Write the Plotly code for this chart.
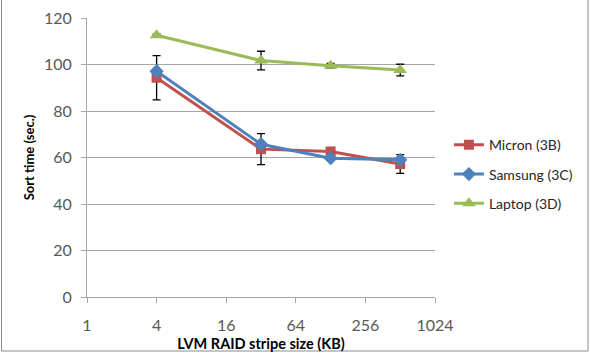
import plotly.graph_objects as go

stripe_kb = [4, 32, 128, 512]
micron = [94.3, 63.6, 62.6, 57.2]
micron_err = [9.5, 6.7, 1.0, 4.0]
samsung = [97.1, 65.7, 59.7, 59.0]
laptop = [112.6, 101.7, 99.5, 97.6]
laptop_err = [0.5, 4.0, 1.0, 2.5]
x_ticks = [1, 4, 16, 64, 256, 1024]
y_ticks = [0, 20, 40, 60, 80, 100, 120]

FONT = "Lato, Open Sans, sans-serif"
W, H = 590, 353
L, R, T, B = 87, 155, 18, 56

fig = go.Figure()
fig.add_trace(go.Scatter(
    x=stripe_kb, y=micron, name="Micron (3B)", mode="lines+markers", legendgroup="a",
    line=dict(color="#C0504D", width=3),
    marker=dict(symbol="square", size=10, color="#C0504D"),
    error_y=dict(type="data", array=micron_err, color="black", thickness=1.3, width=4),
))
fig.add_trace(go.Scatter(
    x=stripe_kb, y=samsung, name="Samsung (3C)", mode="lines+markers", legendgroup="b",
    line=dict(color="#4F81BD", width=3),
    marker=dict(symbol="diamond", size=11, color="#4F81BD"),
))
fig.add_trace(go.Scatter(
    x=stripe_kb, y=laptop, name="Laptop (3D)", mode="lines+markers", legendgroup="c",
    line=dict(color="#9BBB59", width=3),
    marker=dict(symbol="triangle-up", size=12, color="#9BBB59"),
    error_y=dict(type="data", array=laptop_err, color="black", thickness=1.3, width=4),
))

pw = W - L - R
ph = H - T - B
fig.add_shape(type="rect", xref="paper", yref="paper",
              x0=-(L - 1.5) / pw, x1=(W - L - 2) / pw,
              y0=-(B - 2) / ph, y1=(H - T - 1.5) / ph,
              line=dict(color="#8c8c8c", width=1), layer="below")

fig.update_layout(
    width=W, height=H,
    margin=dict(l=L, r=R, t=T, b=B, autoexpand=False),
    paper_bgcolor="white", plot_bgcolor="white",
    font=dict(family=FONT, size=16, color="#595959"),
    showlegend=True,
    legend=dict(x=1.04, y=0.44, xanchor="left", yanchor="middle",
                font=dict(size=14, color="#262626"), tracegroupgap=8,
                bgcolor="rgba(0,0,0,0)"),
    xaxis=dict(
        type="log", range=[0, 3.0103], automargin=False,
        tickvals=x_ticks, ticktext=[str(v) for v in x_ticks],
        ticks="outside", ticklen=5, tickcolor="#a6a6a6", ticklabelstandoff=9,
        showline=True, linecolor="#a6a6a6", showgrid=False, zeroline=False,
        title=dict(text="<b>LVM RAID stripe size (KB)</b>", standoff=5,
                   font=dict(size=14.5, color="black")),
    ),
    yaxis=dict(
        range=[0, 120], tickvals=y_ticks, automargin=False,
        ticks="outside", ticklen=5, tickcolor="#a6a6a6", ticklabelstandoff=6,
        showline=True, linecolor="#a6a6a6",
        showgrid=True, gridcolor="#a6a6a6", zeroline=False,
        title=dict(text="<b>Sort time (sec.)</b>", standoff=6,
                   font=dict(size=13, color="black")),
    ),
)

fig.write_html("out.html", post_script="document.body.style.margin='0';",
               config={"displayModeBar": False})
